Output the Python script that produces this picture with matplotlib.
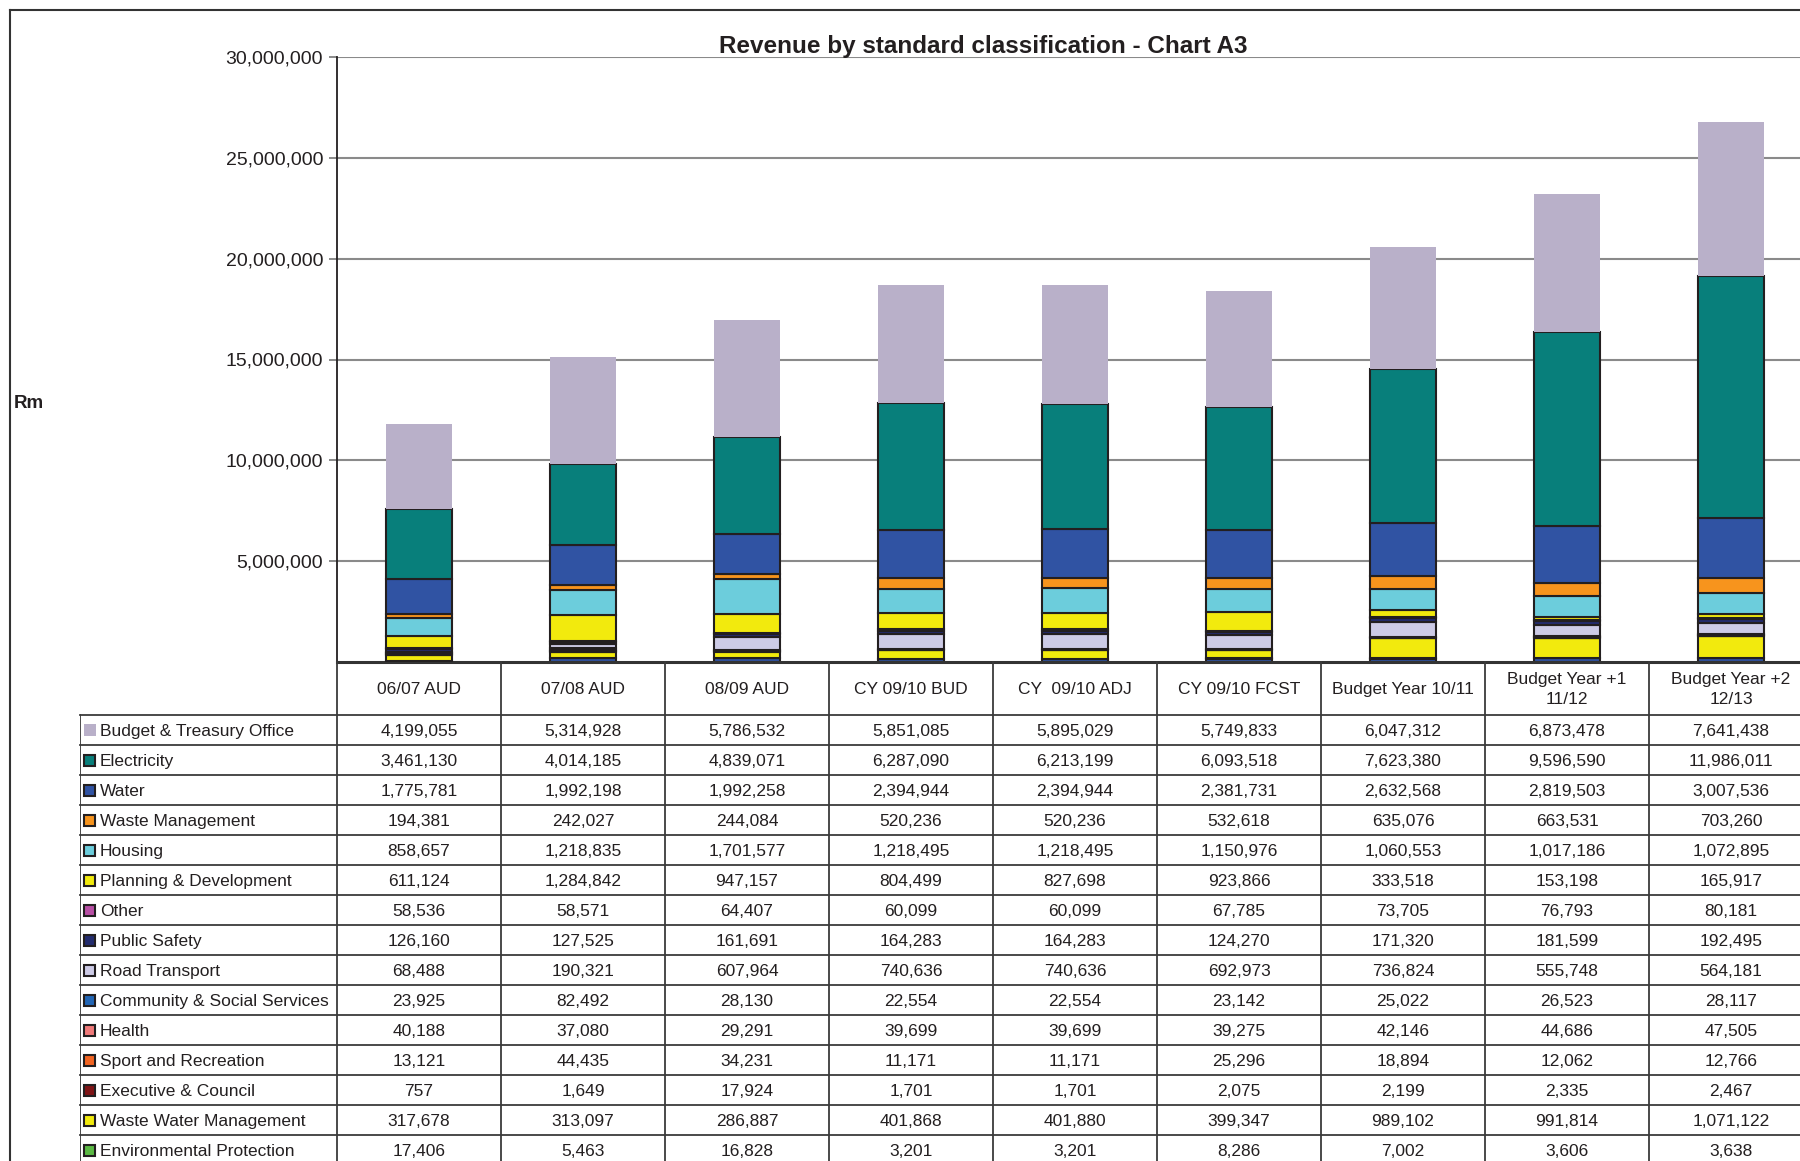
import matplotlib
matplotlib.use("Agg")
import numpy as np
import matplotlib.pyplot as plt
from matplotlib import font_manager
from matplotlib.patches import Rectangle
from matplotlib.lines import Line2D

plt.rcParams['font.family'] = ['Liberation Sans', 'DejaVu Sans']

columns = ["06/07 AUD", "07/08 AUD", "08/09 AUD", "CY 09/10 BUD", "CY  09/10 ADJ",
           "CY 09/10 FCST", "Budget Year 10/11", "Budget Year +1\n11/12", "Budget Year +2\n12/13"]

# table order (top of stack first)
names = ["Budget & Treasury Office", "Electricity", "Water", "Waste Management", "Housing",
         "Planning & Development", "Other", "Public Safety", "Road Transport",
         "Community & Social Services", "Health", "Sport and Recreation",
         "Executive & Council", "Waste Water Management", "Environmental Protection"]

budget_treasury = [4199055, 5314928, 5786532, 5851085, 5895029, 5749833, 6047312, 6873478, 7641438]
electricity = [3461130, 4014185, 4839071, 6287090, 6213199, 6093518, 7623380, 9596590, 11986011]
water = [1775781, 1992198, 1992258, 2394944, 2394944, 2381731, 2632568, 2819503, 3007536]
waste_mgmt = [194381, 242027, 244084, 520236, 520236, 532618, 635076, 663531, 703260]
housing = [858657, 1218835, 1701577, 1218495, 1218495, 1150976, 1060553, 1017186, 1072895]
planning = [611124, 1284842, 947157, 804499, 827698, 923866, 333518, 153198, 165917]
other = [58536, 58571, 64407, 60099, 60099, 67785, 73705, 76793, 80181]
public_safety = [126160, 127525, 161691, 164283, 164283, 124270, 171320, 181599, 192495]
road_transport = [68488, 190321, 607964, 740636, 740636, 692973, 736824, 555748, 564181]
community = [23925, 82492, 28130, 22554, 22554, 23142, 25022, 26523, 28117]
health = [40188, 37080, 29291, 39699, 39699, 39275, 42146, 44686, 47505]
sport = [13121, 44435, 34231, 11171, 11171, 25296, 18894, 12062, 12766]
executive = [757, 1649, 17924, 1701, 1701, 2075, 2199, 2335, 2467]
waste_water = [317678, 313097, 286887, 401868, 401880, 399347, 989102, 991814, 1071122]
env_protection = [17406, 5463, 16828, 3201, 3201, 8286, 7002, 3606, 3638]
# series whose table row falls below the visible area; heights estimated from the bars
below_table = [30000, 200000, 200000, 170000, 170000, 170000, 170000, 200000, 200000]

values = [budget_treasury, electricity, water, waste_mgmt, housing, planning, other,
          public_safety, road_transport, community, health, sport, executive,
          waste_water, env_protection]

colors = ["#B9B0C9", "#087F7B", "#3053A3", "#F7941D", "#6CCDDC", "#F2EA0D", "#B84FA5",
          "#232C6E", "#CDCBE6", "#2266B5", "#F07A7A", "#F26522", "#7F1416", "#F2EA0D",
          "#5BB944"]
hidden_color = "#3053A3"

W, H = 1800, 1161
fig = plt.figure(figsize=(W / 100, H / 100), dpi=100)
fig.patch.set_facecolor("white")

ink = "#231f20"
ax = fig.add_axes([337 / W, 499 / H, 1476 / W, 605 / H])
x = np.arange(len(columns))
bottom = np.zeros(len(columns))

ax.bar(x, below_table, 0.4, bottom=bottom, color=hidden_color, edgecolor=ink, linewidth=1.5)
bottom += below_table
for vals, col in zip(values[::-1], colors[::-1]):
    lw = 0 if col == colors[0] else 1.5
    ax.bar(x, vals, 0.4, bottom=bottom, color=col, edgecolor=ink, linewidth=lw, zorder=3)
    bottom += np.array(vals)

ax.set_xlim(-0.5, 8.5)
ax.set_ylim(0, 30000000)
yt = np.arange(5000000, 30000001, 5000000)
ax.set_yticks(yt)
ax.set_yticklabels([f"{v:,}" for v in yt], fontsize=14, color=ink)
ax.set_xticks([])
ax.tick_params(axis='y', length=6, width=1.2, color="#777777", pad=4)
ax.grid(axis='y', color="#8a8a8a", linewidth=1.5)
ax.set_axisbelow(True)
for s in ["top", "right"]:
    ax.spines[s].set_visible(False)
ax.spines["left"].set_color(ink)
ax.spines["left"].set_linewidth(1.3)
ax.spines["bottom"].set_color("#333333")
ax.spines["bottom"].set_linewidth(2.2)

# title
avail = {f.name for f in font_manager.fontManager.ttflist}
tfam = ['Liberation Sans Narrow', 'Liberation Sans'] if 'Liberation Sans Narrow' in avail else ['Liberation Sans']
fig.text(983 / W, 1 - 47 / H, "Revenue by standard classification - Chart A3",
         ha="center", va="center", fontsize=17.5, fontweight="bold", family=tfam, color=ink)
fig.text(14 / W, 1 - 403 / H, "Rm", ha="left", va="center", fontsize=13.5,
         fontweight="bold", color=ink)

# data table
h0 = 53 / 30
nrows = len(names)
total = h0 + nrows + 0.13
tax = fig.add_axes([80 / W, (H - 662 - total * 30) / H, (1813 - 80) / W, total * 30 / H])
lab_left = -0.5 - 257 / 164
tax.set_xlim(lab_left, 8.5)
tax.set_ylim(total, 0)
tax.axis("off")
lc = "#3a3a3a"
tax.plot([lab_left, 8.5], [h0, h0], color=lc, lw=1.3, clip_on=False)
for i in range(1, nrows + 1):
    tax.plot([lab_left, 8.5], [h0 + i, h0 + i], color=lc, lw=1.3, clip_on=False)
tax.plot([lab_left, lab_left], [h0, total], color=lc, lw=1.3)
for k in range(len(columns) + 1):
    tax.plot([k - 0.5, k - 0.5], [0, total], color=lc, lw=1.3, clip_on=False)

for k, c in enumerate(columns):
    tax.text(k, h0 / 2 + 0.02, c, ha="center", va="center", fontsize=12.5, color=ink,
             linespacing=1.4)

for i, (nm, vals, col) in enumerate(zip(names, values, colors)):
    yc = h0 + i + 0.5
    if i == 0:
        tax.add_patch(Rectangle((lab_left + 3.5 / 164, yc - 6 / 30), 12 / 164, 12 / 30,
                                facecolor=col, edgecolor="none"))
    else:
        tax.add_patch(Rectangle((lab_left + 4 / 164, yc - 5.5 / 30), 11 / 164, 11 / 30,
                                facecolor=col, edgecolor=ink, linewidth=1.5))
    tax.text(lab_left + 20 / 164, yc + 0.04, nm, ha="left", va="center", fontsize=12.5, color=ink)
    for k, v in enumerate(vals):
        tax.text(k, yc + 0.04, f"{v:,}", ha="center", va="center", fontsize=12.5, color=ink)

# outer frame (cut at right and bottom)
fig.add_artist(Line2D([10 / W, 10 / W], [0, 1 - 10 / H], color="#333333", lw=1.5))
fig.add_artist(Line2D([10 / W, 1], [1 - 10 / H, 1 - 10 / H], color="#333333", lw=1.5))

fig.savefig("out.png", dpi=100)
